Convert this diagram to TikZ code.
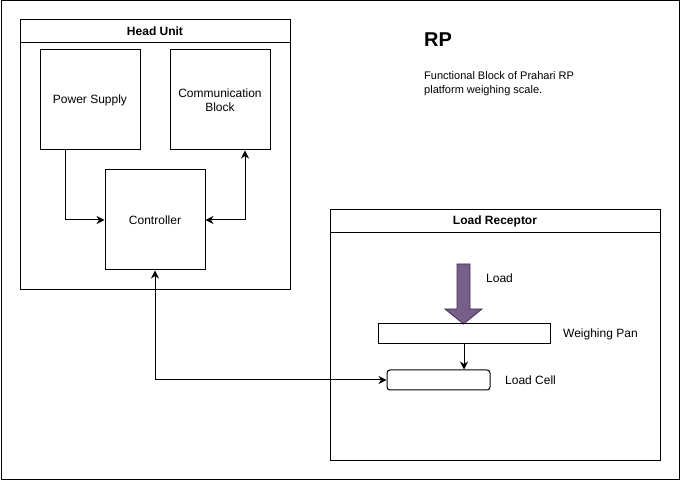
\documentclass[tikz,border=0pt]{standalone}
\usepackage{fontspec}
\setmainfont{Liberation Sans}
\usetikzlibrary{arrows.meta}
\definecolor{loadfill}{HTML}{76608A}
\definecolor{loaddraw}{HTML}{432D57}
\begin{document}
\begin{tikzpicture}[x=1pt,y=-1pt,
  every node/.style={font=\fontsize{12}{14}\selectfont, inner sep=0pt},
  box/.style={draw, line width=1pt, minimum width=100pt, minimum height=100pt, align=center},
  lbl/.style={anchor=west},
  conn/.style={line width=1pt, -{Stealth[length=8pt,width=8pt,inset=2.5pt]}},
  bconn/.style={line width=1pt, {Stealth[length=8pt,width=8pt,inset=2.5pt]}-{Stealth[length=8pt,width=8pt,inset=2.5pt]}}
]
\useasboundingbox (0,0) rectangle (681,481);
% outer frame
\draw[line width=1pt] (1,1) rectangle (679.5,479.5);

% Head Unit container
\node[draw, line width=1pt, minimum width=270pt, minimum height=270pt] (hu) at (155,155) {};
\draw[line width=1pt] (20,43) -- (290,43);
\node[font=\bfseries\fontsize{12}{14}\selectfont] (hut) at (155,31.5) {Head Unit};

\node[box] (ps) at (90,100) {Power Supply};
\node[box] (cb) at (220,100) {Communication\\Block};
\node[box] (ctl) at (155,220) {Controller};

% Load Receptor container
\node[draw, line width=1pt, minimum width=330pt, minimum height=250pt] (lr) at (495,335) {};
\draw[line width=1pt] (330,233) -- (660,233);
\node[font=\bfseries\fontsize{12}{14}\selectfont] (lrt) at (495,221.5) {Load Receptor};

% Title and description
\node[anchor=west, font=\bfseries\fontsize{20}{24}\selectfont] (rp) at (424,40) {RP};
\node[anchor=west, align=left, font=\fontsize{11}{14}\selectfont] (desc) at (424,84) {Functional Block of Prahari RP\\platform weighing scale.};

% Load arrow
\draw[fill=loadfill, draw=loaddraw, line width=0.8pt]
  (457,264) -- (470,264) -- (470,309) -- (482,309) -- (463.5,324) -- (445,309) -- (457,309) -- cycle;
\node[lbl] (loadl) at (486,278) {Load};

% Weighing pan and load cell
\node[draw, line width=1pt, minimum width=172pt, minimum height=20pt] (pan) at (464,334) {};
\node[lbl] (panl) at (563,334) {Weighing Pan};
\node[draw, line width=1pt, rounded corners=3pt, minimum width=103pt, minimum height=20pt] (cell) at (438.5,380) {};
\node[lbl] (celll) at (505,380) {Load Cell};

% connectors
\draw[conn] ([xshift=-25pt]ps.south) -- (65,220) -- (ctl.west);
\draw[bconn] (ctl.east) -- (245,220) -- ([xshift=25pt]cb.south);
\draw[bconn] (ctl.south) -- (155,380) -- (cell.west);
\draw[conn] (pan.south) -- (cell.north -| pan.south);
\end{tikzpicture}
\end{document}
